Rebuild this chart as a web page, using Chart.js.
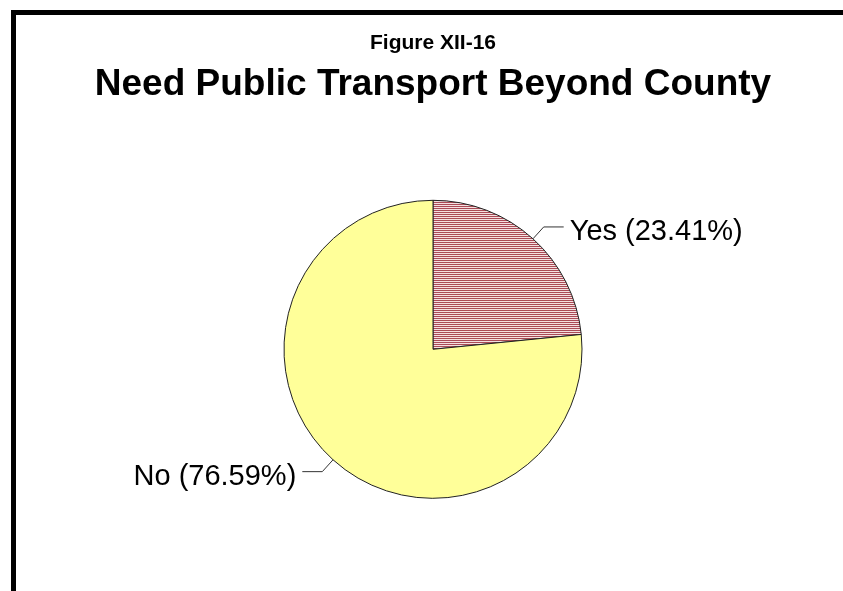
<!DOCTYPE html>
<html>
<head>
<meta charset="utf-8">
<script src="https://cdn.jsdelivr.net/npm/chart.js@4/dist/chart.umd.min.js"></script>
<style>
  html, body { margin: 0; padding: 0; background: #fff; }
  #wrap { width: 843px; height: 591px; }
</style>
</head>
<body>
<div id="wrap"><canvas id="myChart" width="843" height="591"></canvas></div>
<script>
var categorias = ['Yes', 'No'];
var valores = [23.41, 76.59];
var rotulos = ['Yes (23.41%)', 'No (76.59%)'];

Chart.defaults.font.family = '"Liberation Sans", Arial, sans-serif';
Chart.defaults.color = '#000';

// hachura horizontal vermelha da fatia "Yes"
function criarListrado() {
    var c = document.createElement('canvas');
    c.width = 4;
    c.height = 2;
    var g = c.getContext('2d');
    g.fillStyle = '#f4e0e0';
    g.fillRect(0, 0, 4, 2);
    g.fillStyle = '#ab4b56';
    g.fillRect(0, 0, 4, 1);
    return g.createPattern(c, 'repeat');
}

// moldura preta (esquerda e topo)
var moldura = {
    id: 'moldura',
    beforeDraw: function (chart) {
        var ctx = chart.ctx;
        ctx.save();
        ctx.fillStyle = '#fff';
        ctx.fillRect(0, 0, chart.width, chart.height);
        ctx.fillStyle = '#000';
        ctx.fillRect(11, 10, 5, chart.height - 10);
        ctx.fillRect(11, 10, chart.width - 11, 5);
        ctx.restore();
    }
};

// rótulos com linha de chamada
var chamadas = {
    id: 'chamadas',
    afterDatasetsDraw: function (chart) {
        var ctx = chart.ctx;
        var arcs = chart.getDatasetMeta(0).data;
        ctx.save();
        ctx.strokeStyle = '#333';
        ctx.lineWidth = 1;
        ctx.fillStyle = '#000';
        ctx.font = '29px "Liberation Sans", Arial, sans-serif';
        arcs.forEach(function (arc, i) {
            var p = arc.getProps(['x', 'y', 'startAngle', 'endAngle', 'outerRadius'], true);
            var meio = (p.startAngle + p.endAngle) / 2;
            var cx = Math.cos(meio), cy = Math.sin(meio);
            var x0 = p.x + cx * p.outerRadius, y0 = p.y + cy * p.outerRadius;
            var x1 = p.x + cx * (p.outerRadius + 16), y1 = p.y + cy * (p.outerRadius + 16);
            var lado = cx >= 0 ? 1 : -1;
            var x2 = x1 + lado * 20;
            ctx.beginPath();
            ctx.moveTo(x0, y0);
            ctx.lineTo(x1, y1);
            ctx.lineTo(x2, y1);
            ctx.stroke();
            ctx.textAlign = lado > 0 ? 'left' : 'right';
            ctx.textBaseline = 'alphabetic';
            ctx.fillText(rotulos[i], x2 + lado * 6, y1 + 13);
        });
        ctx.restore();
    }
};

var ctx = document.getElementById('myChart').getContext('2d');
var myChart = new Chart(ctx, {
    type: 'pie',
    data: {
        labels: categorias,
        datasets: [{
            data: valores,
            backgroundColor: [criarListrado(), '#ffff99'],
            borderColor: '#222',
            borderWidth: 1,
            radius: 149
        }]
    },
    options: {
        responsive: false,
        animation: false,
        layout: {
            padding: { left: 23, right: 0, top: 0, bottom: 9 }
        },
        plugins: {
            legend: { display: false },
            tooltip: { enabled: false },
            title: {
                display: true,
                text: 'Figure XII-16',
                font: { size: 21, weight: 'bold', lineHeight: 1.2 },
                padding: { top: 31, bottom: 0 }
            },
            subtitle: {
                display: true,
                text: 'Need Public Transport Beyond County',
                color: '#000',
                font: { size: 37, weight: 'bold', lineHeight: 1.2 },
                padding: { top: 6, bottom: 10 }
            }
        }
    },
    plugins: [moldura, chamadas]
});
</script>
</body>
</html>
